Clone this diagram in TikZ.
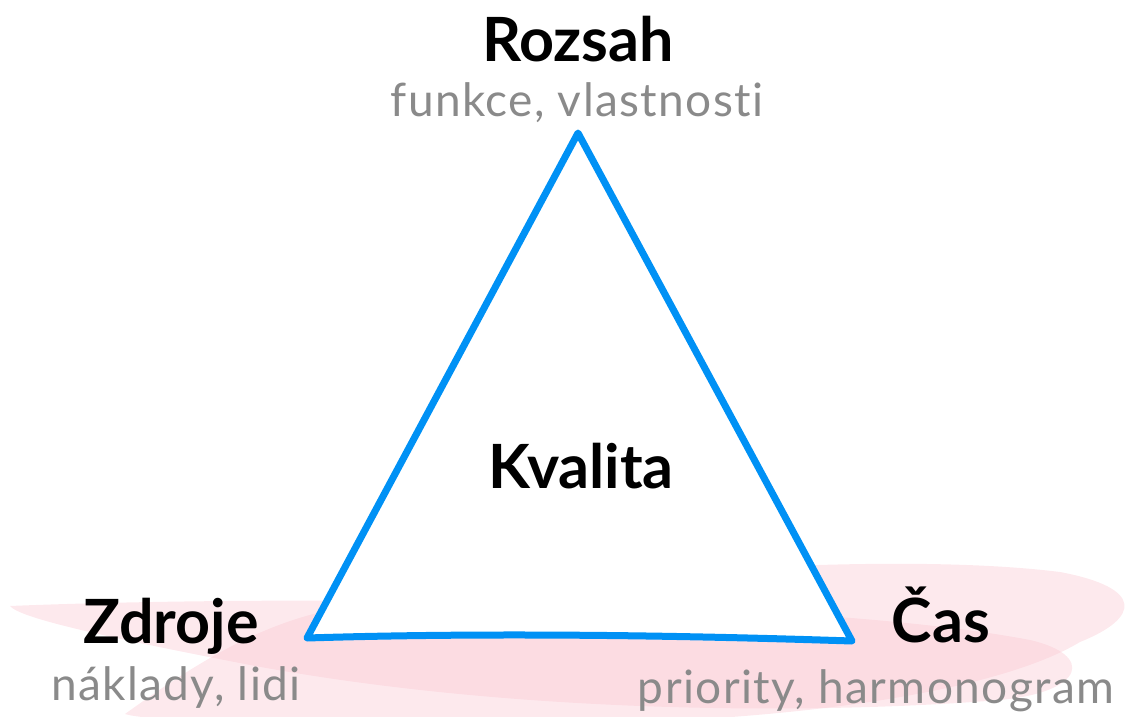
\documentclass[tikz,border=0pt]{standalone}
\usepackage{fontspec}
\setmainfont{Lato}
\usepackage{tikz}
\usetikzlibrary{positioning}

\definecolor{trianglecol}{RGB}{0,145,245}
\definecolor{blushcol}{RGB}{250,200,210}
\definecolor{notecol}{RGB}{138,138,138}

\tikzset{
  head/.style={anchor=base,inner sep=0pt,font=\fontsize{61}{63}\selectfont\bfseries},
  note/.style={anchor=base,inner sep=0pt,text=notecol,
    font=\fontsize{46}{48}\selectfont\addfontfeatures{LetterSpace=3,Ligatures=NoCommon}},
  blush/.style={fill=blushcol,fill opacity=0.4,draw=none}
}

\begin{document}
\begin{tikzpicture}[x=1pt,y=-1pt]
    \useasboundingbox (0,0) rectangle (1128,717);

    % pink brush strokes behind the corners
    \path[blush] (10,606) .. controls (250,596) and (800,596) .. (1030,640)
        .. controls (1095,655) and (1085,692) .. (1000,700)
        .. controls (800,716) and (500,712) .. (250,665)
        .. controls (100,636) and (20,618) .. (10,606) -- cycle;
    \path[blush] (125,714) .. controls (200,660) and (260,625) .. (330,610)
        .. controls (600,570) and (900,552) .. (1060,572)
        .. controls (1145,588) and (1140,618) .. (1080,642)
        .. controls (1000,690) and (800,725) .. (500,725)
        .. controls (300,725) and (150,722) .. (125,714) -- cycle;

    \coordinate (apex) at (578,133);
    \coordinate (left) at (307,638);
    \coordinate (right) at (852,641);

    \draw[trianglecol,fill=white,line width=7pt,line join=round]
        (apex) -- (left) .. controls (500,632) and (700,636) .. (right) -- cycle;

    \node[head] (rozsah) at (578,62) {Rozsah};
    \node[note] (rozsahnote) at (577,117) {funkce, vlastnosti};
    \node[head] (kvalita) at (581,488) {Kvalita};
    \node[head] (zdroje) at (171,643) {Zdroje};
    \node[note] (zdrojenote) at (176,700) {náklady, lidi};
    \node[head] (cas) at (941,642) {Čas};
    \node[note] (casnote) at (876,703) {priority, harmonogram};
\end{tikzpicture}
\end{document}
